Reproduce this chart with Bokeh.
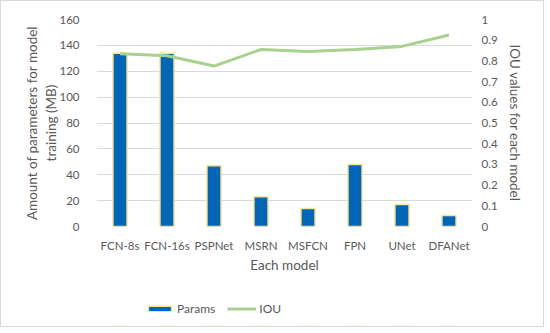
from bokeh.plotting import figure
from bokeh.layouts import column
from bokeh.models import (Range1d, LinearAxis, FixedTicker, Legend, LegendItem, FactorRange)
from bokeh.embed import file_html
from bokeh.resources import INLINE

models = ["FCN-8s", "FCN-16s", "PSPNet", "MSRN", "MSFCN", "FPN", "UNet", "DFANet"]
params = [134, 134, 47, 23, 14, 48, 17, 8.5]
iou = [0.835, 0.825, 0.775, 0.855, 0.845, 0.855, 0.87, 0.925]
left_ticks = [0, 20, 40, 60, 80, 100, 120, 140, 160]
right_ticks = [0, 0.1, 0.2, 0.3, 0.4, 0.5, 0.6, 0.7, 0.8, 0.9, 1.0]

FONT = "Lato"
TXT = "#595959"
BAR_FILL = "#0066B8"
BAR_LINE = "#FFE38A"
LINE_COL = "#A9D18E"

p = figure(x_range=FactorRange(*models), y_range=Range1d(0, 160),
           width=542, height=290, output_backend="svg", toolbar_location=None,
           min_border_left=95, min_border_right=71, min_border_top=18, min_border_bottom=65)
p.outline_line_color = None
p.xgrid.grid_line_color = None
p.ygrid.grid_line_color = "#d9d9d9"
p.ygrid.ticker = FixedTicker(ticks=left_ticks)
p.x_range.range_padding = 0

p.extra_y_ranges = {"iou": Range1d(0, 1)}

p.vbar(x=models, top=params, width=0.3, fill_color=BAR_FILL,
       line_color=BAR_LINE, line_width=1.5)
p.line(x=models, y=iou, y_range_name="iou", line_color=LINE_COL, line_width=3)

ax = p.yaxis[0]
ax.ticker = FixedTicker(ticks=left_ticks)
ax.axis_label = "Amount of parameters for model\ntraining (MB)"

r = LinearAxis(y_range_name="iou", ticker=FixedTicker(ticks=right_ticks),
               axis_label="IOU values for each model")
r.major_label_overrides = {0: "0", 1: "1", 1.0: "1"}
p.add_layout(r, "right")

p.xaxis.axis_label = "Each model"

for a in [p.xaxis[0], ax, r]:
    a.axis_line_color = None
    a.major_tick_line_color = None
    a.minor_tick_line_color = None
    a.major_label_text_font = FONT
    a.major_label_text_font_size = "11.5px"
    a.major_label_text_color = TXT
    a.axis_label_text_font = FONT
    a.axis_label_text_font_size = "13.5px"
    a.axis_label_text_color = TXT
    a.axis_label_text_font_style = "normal"

ax.major_label_standoff = 11
ax.axis_label_standoff = -3
r.major_label_standoff = 3
r.axis_label_standoff = 6
p.xaxis[0].major_label_standoff = 6
p.xaxis[0].axis_label_standoff = 2

# legend strip: same series drawn outside its visible range, only the legend shows
lf = figure(x_range=p.x_range, y_range=Range1d(1000, 1010), width=542, height=35,
            output_backend="svg", toolbar_location=None,
            min_border_left=95, min_border_right=71, min_border_top=0, min_border_bottom=0)
lf.axis.visible = False
lf.grid.grid_line_color = None
lf.outline_line_color = None
lbars = lf.vbar(x=models, top=params, width=0.3, fill_color=BAR_FILL,
                line_color=BAR_LINE, line_width=1.5)
lline = lf.line(x=models, y=iou, line_color=LINE_COL, line_width=3)

legend = Legend(items=[LegendItem(label="Params", renderers=[lbars]),
                       LegendItem(label="IOU", renderers=[lline])],
                orientation="horizontal", location=(49, 10),
                label_text_font=FONT, label_text_font_size="12px",
                label_text_color=TXT, border_line_color=None, background_fill_alpha=0,
                glyph_width=29, glyph_height=7, spacing=12, padding=2, margin=0,
                label_standoff=3)
lf.add_layout(legend, "center")

layout = column(p, lf, spacing=0)
layout.styles = {"border": "1px solid #d9d9d9"}

open("out.html", "w").write(file_html(layout, INLINE))
